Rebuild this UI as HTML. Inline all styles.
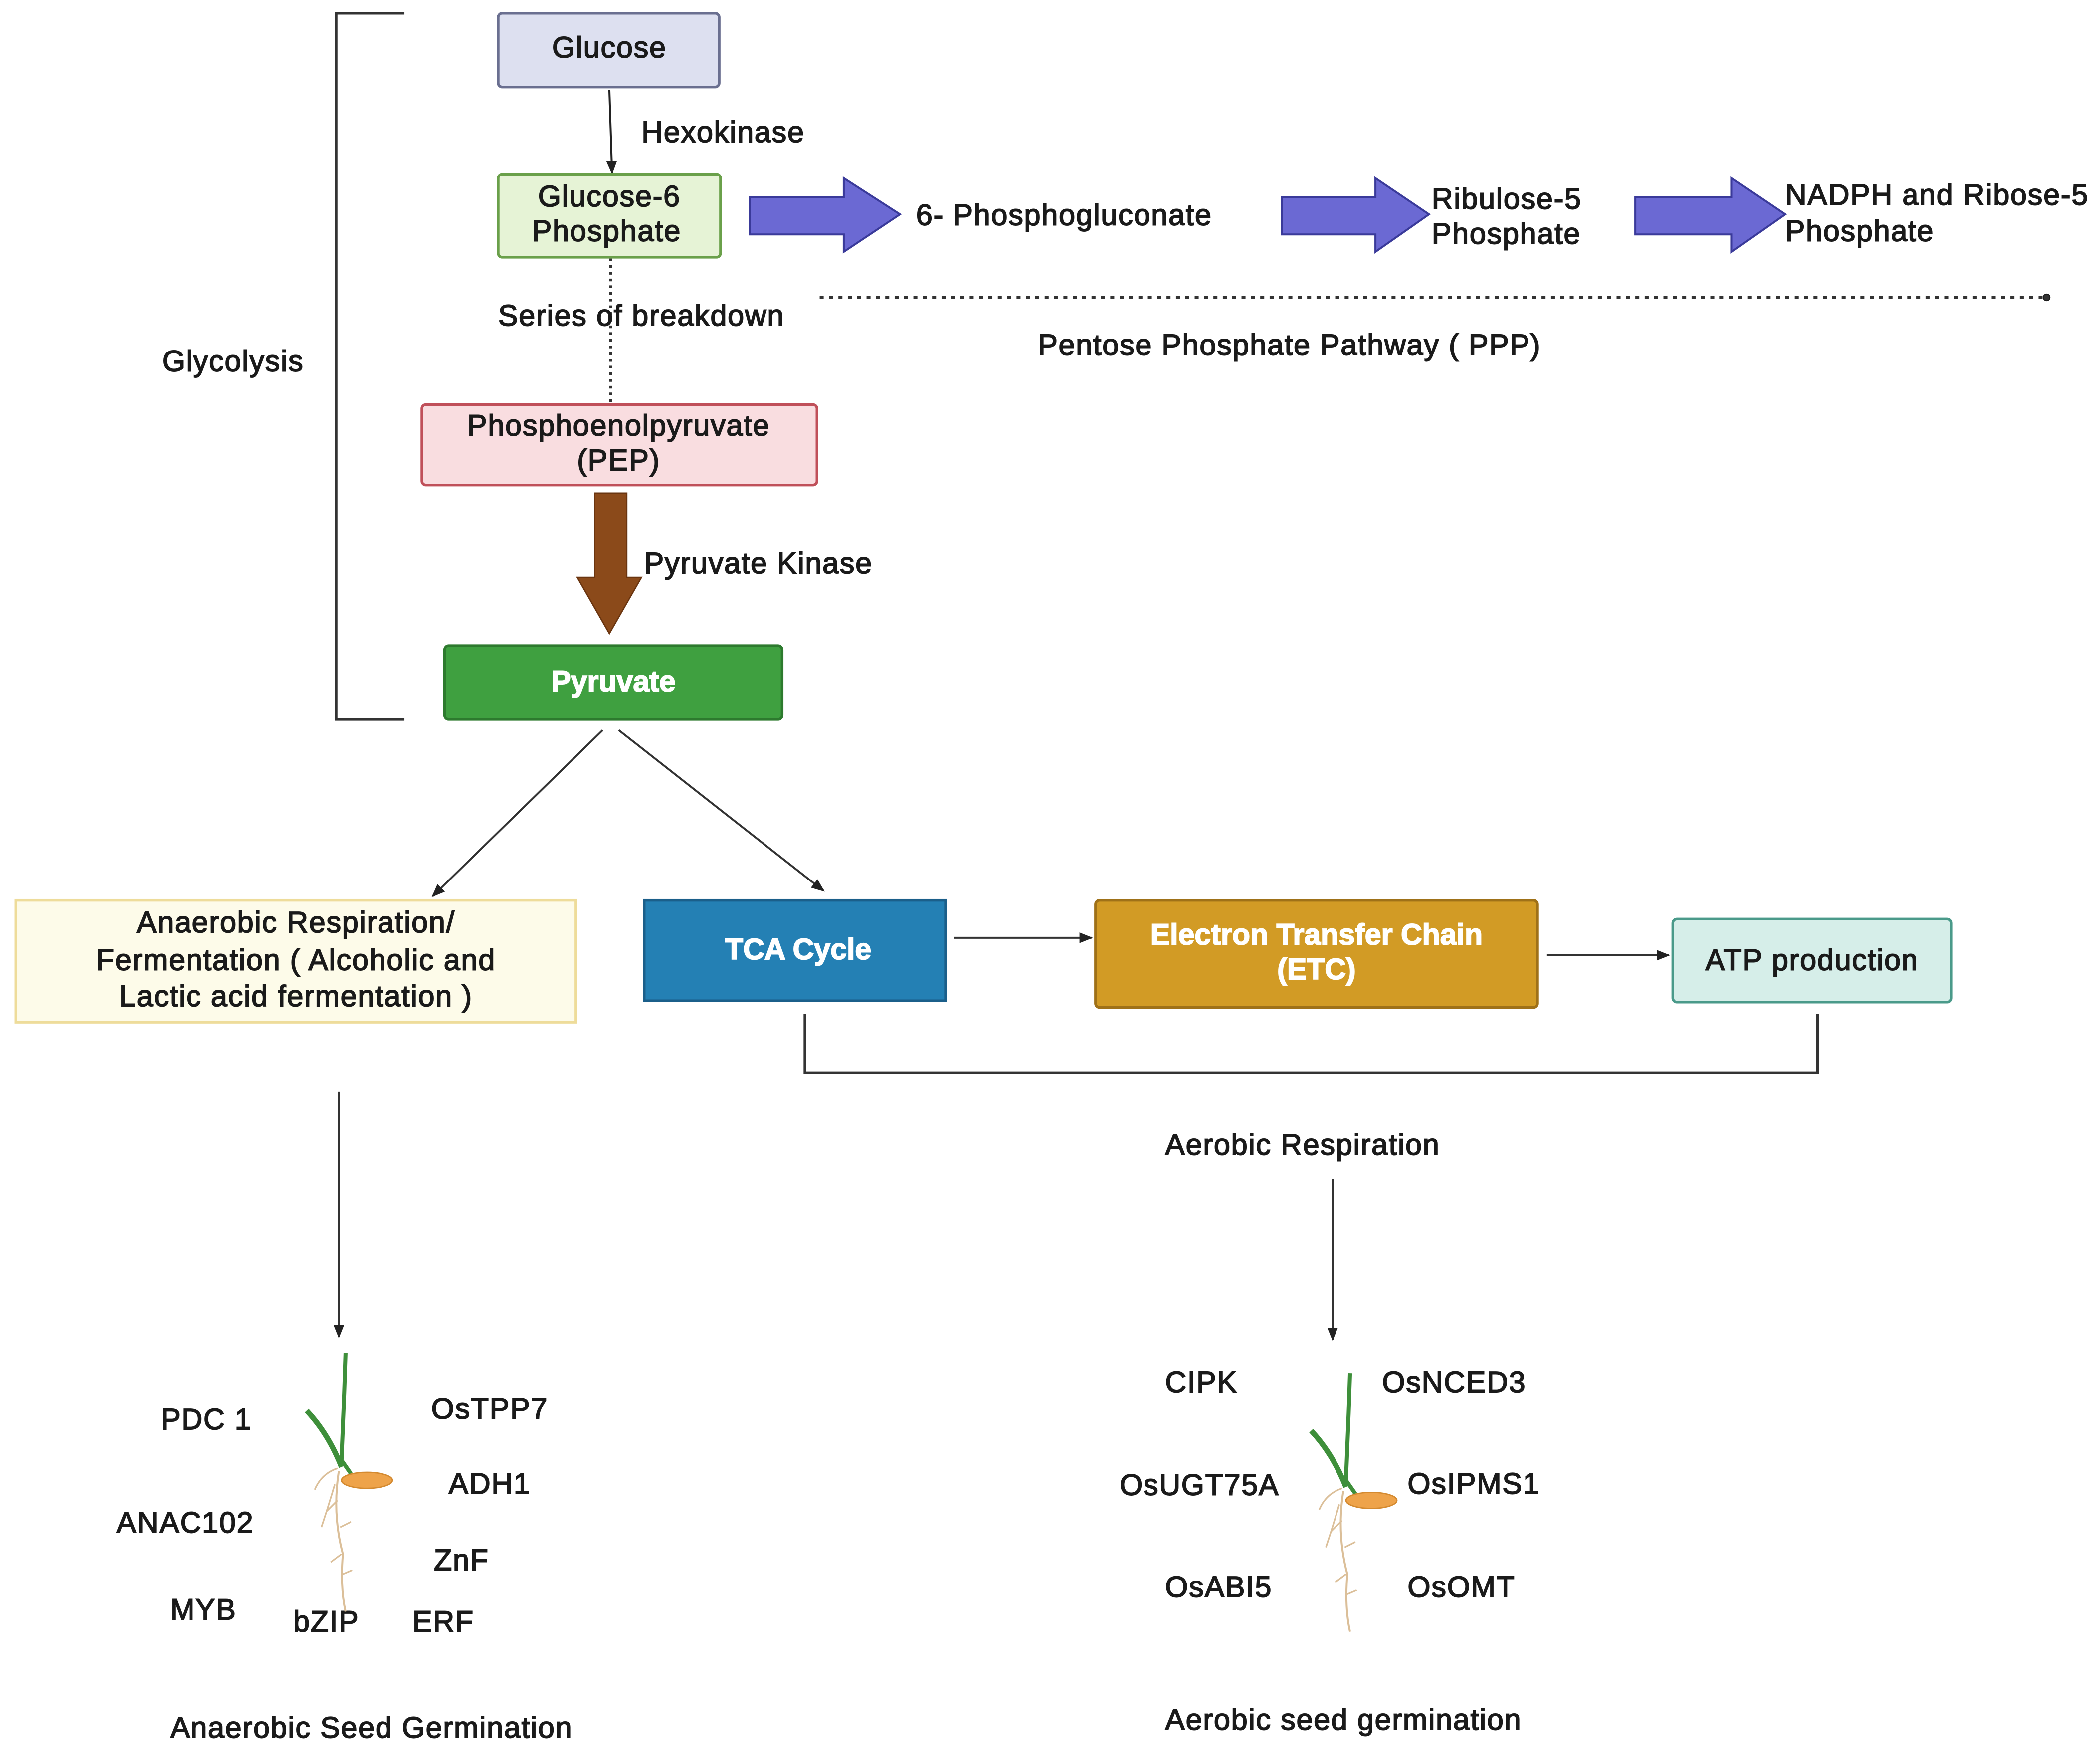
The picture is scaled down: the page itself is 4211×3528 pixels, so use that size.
<!DOCTYPE html>
<html><head><meta charset="utf-8"><style>html,body{margin:0;padding:0;background:#fff}svg{display:block}</style></head>
<body>
<svg width="4211" height="3528" viewBox="0 0 1568 1313" preserveAspectRatio="none" xmlns="http://www.w3.org/2000/svg">
<defs>
<marker id="a" markerWidth="10" markerHeight="10" refX="9" refY="5" orient="auto" markerUnits="userSpaceOnUse"><path d="M0,1 L10,5 L0,9 z" fill="#222"/></marker>
</defs>
<g font-family="Liberation Sans, sans-serif" font-size="22" letter-spacing="0.7" fill="#1a1a1a" stroke="#1a1a1a" stroke-width="0.7">
<path d="M302,10 H251 V537 H302" fill="none" stroke="#333" stroke-width="2"/>
<text x="174" y="277" text-anchor="middle">Glycolysis</text>
<rect x="372" y="10" width="165" height="55" rx="3" fill="#dde0f0" stroke="#6a6f90" stroke-width="2"/>
<text x="455" y="43" text-anchor="middle">Glucose</text>
<line x1="455" y1="67" x2="457" y2="129" stroke="#222" stroke-width="1.5" marker-end="url(#a)"/>
<text x="479" y="106">Hexokinase</text>
<rect x="372" y="130" width="166" height="62" rx="3" fill="#e6f3d6" stroke="#6aa04a" stroke-width="2"/>
<text x="455" y="154" text-anchor="middle">Glucose-6</text>
<text x="453" y="180" text-anchor="middle">Phosphate</text>
<line x1="456" y1="193" x2="456" y2="300" stroke="#333" stroke-width="2" stroke-dasharray="2,3"/>
<text x="372" y="243">Series of breakdown</text>
<rect x="315" y="302" width="295" height="60" rx="3" fill="#f9dde0" stroke="#c0505a" stroke-width="2"/>
<text x="462" y="325" text-anchor="middle">Phosphoenolpyruvate</text>
<text x="462" y="351" text-anchor="middle">(PEP)</text>
<path d="M444,368 H468 V431 H479 L455,473 L431,431 H444 Z" fill="#8b4a1a" stroke="#6a3510" stroke-width="1"/>
<text x="481" y="428">Pyruvate Kinase</text>
<rect x="332" y="482" width="252" height="55" rx="3" fill="#3fa040" stroke="#2d7a2e" stroke-width="2"/>
<text x="458" y="516" text-anchor="middle" fill="#fff" stroke="#fff" font-weight="bold" letter-spacing="0">Pyruvate</text>
<line x1="450" y1="545" x2="323" y2="669" stroke="#333" stroke-width="1.5" marker-end="url(#a)"/>
<line x1="462" y1="545" x2="615" y2="665" stroke="#333" stroke-width="1.5" marker-end="url(#a)"/>
<rect x="12" y="672" width="418" height="91" fill="#fdfbe9" stroke="#eedc9a" stroke-width="2"/>
<text x="221" y="696" text-anchor="middle">Anaerobic Respiration/</text>
<text x="221" y="724" text-anchor="middle">Fermentation ( Alcoholic and</text>
<text x="221" y="751" text-anchor="middle">Lactic acid fermentation )</text>
<rect x="481" y="672" width="225" height="75" fill="#2480b4" stroke="#1b5f8a" stroke-width="2"/>
<text x="596" y="716" text-anchor="middle" fill="#fff" stroke="#fff" font-weight="bold" letter-spacing="0">TCA Cycle</text>
<rect x="818" y="672" width="330" height="80" rx="3" fill="#d29b25" stroke="#9f7118" stroke-width="2"/>
<text x="983" y="705" text-anchor="middle" fill="#fff" stroke="#fff" font-weight="bold" letter-spacing="0">Electron Transfer Chain</text>
<text x="983" y="731" text-anchor="middle" fill="#fff" stroke="#fff" font-weight="bold" letter-spacing="0">(ETC)</text>
<rect x="1249" y="686" width="208" height="62" rx="3" fill="#d6eee9" stroke="#4a9a8a" stroke-width="2"/>
<text x="1353" y="724" text-anchor="middle">ATP production</text>
<line x1="712" y1="700" x2="815" y2="700" stroke="#333" stroke-width="1.5" marker-end="url(#a)"/>
<line x1="1155" y1="713" x2="1246" y2="713" stroke="#333" stroke-width="1.5" marker-end="url(#a)"/>
<path d="M601,757 V801 H1357 V757" fill="none" stroke="#333" stroke-width="2"/>
<text x="870" y="862">Aerobic Respiration</text>
<line x1="995" y1="880" x2="995" y2="1000" stroke="#333" stroke-width="1.5" marker-end="url(#a)"/>
<line x1="253" y1="815" x2="253" y2="998" stroke="#333" stroke-width="1.5" marker-end="url(#a)"/>
<path d="M560,147 H630 V133 L672,160 L630,188 V175 H560 Z" fill="#6b69d3" stroke="#3a3a9a" stroke-width="1.5"/>
<path d="M957,147 H1027 V133 L1067,160 L1027,188 V175 H957 Z" fill="#6b69d3" stroke="#3a3a9a" stroke-width="1.5"/>
<path d="M1221,147 H1293 V133 L1333,160 L1293,188 V175 H1221 Z" fill="#6b69d3" stroke="#3a3a9a" stroke-width="1.5"/>
<text x="684" y="168">6- Phosphogluconate</text>
<text x="1069" y="156">Ribulose-5</text>
<text x="1069" y="182">Phosphate</text>
<text x="1333" y="153">NADPH and Ribose-5</text>
<text x="1333" y="180">Phosphate</text>
<line x1="612" y1="222" x2="1526" y2="222" stroke="#333" stroke-width="2" stroke-dasharray="3,4"/>
<circle cx="1528" cy="222" r="2.5" fill="#333"/>
<text x="775" y="265">Pentose Phosphate Pathway ( PPP)</text>
<text x="120" y="1067">PDC 1</text>
<text x="322" y="1059">OsTPP7</text>
<text x="335" y="1115">ADH1</text>
<text x="87" y="1144">ANAC102</text>
<text x="324" y="1172">ZnF</text>
<text x="127" y="1209">MYB</text>
<text x="219" y="1218">bZIP</text>
<text x="308" y="1218">ERF</text>
<text x="127" y="1297">Anaerobic Seed Germination</text>
<text x="870" y="1039">CIPK</text>
<text x="1032" y="1039">OsNCED3</text>
<text x="836" y="1116">OsUGT75A</text>
<text x="1051" y="1115">OsIPMS1</text>
<text x="870" y="1192">OsABI5</text>
<text x="1051" y="1192">OsOMT</text>
<text x="870" y="1291">Aerobic seed germination</text>
</g>
<g id="s1">
<path d="M258,1010 L257,1040 L255,1090 L262,1100" fill="none" stroke="#3e8f3a" stroke-width="3"/>
<path d="M229,1053 Q245,1070 255,1095" fill="none" stroke="#3e8f3a" stroke-width="4"/>
<ellipse cx="274" cy="1105" rx="19" ry="6" fill="#eea34a" stroke="#d48a30" stroke-width="1"/>
<path d="M253,1098 Q248,1130 256,1160 Q254,1185 258,1203" fill="none" stroke="#dbbf99" stroke-width="1.5"/>
<path d="M252,1096 Q240,1100 235,1112 M250,1108 Q245,1125 240,1140 M252,1120 L244,1128 M254,1140 L262,1136 M255,1160 L247,1166 M256,1175 L263,1172" fill="none" stroke="#dbbf99" stroke-width="1.2"/>
</g>
<use href="#s1" x="750" y="15"/>
</svg>
</body></html>
